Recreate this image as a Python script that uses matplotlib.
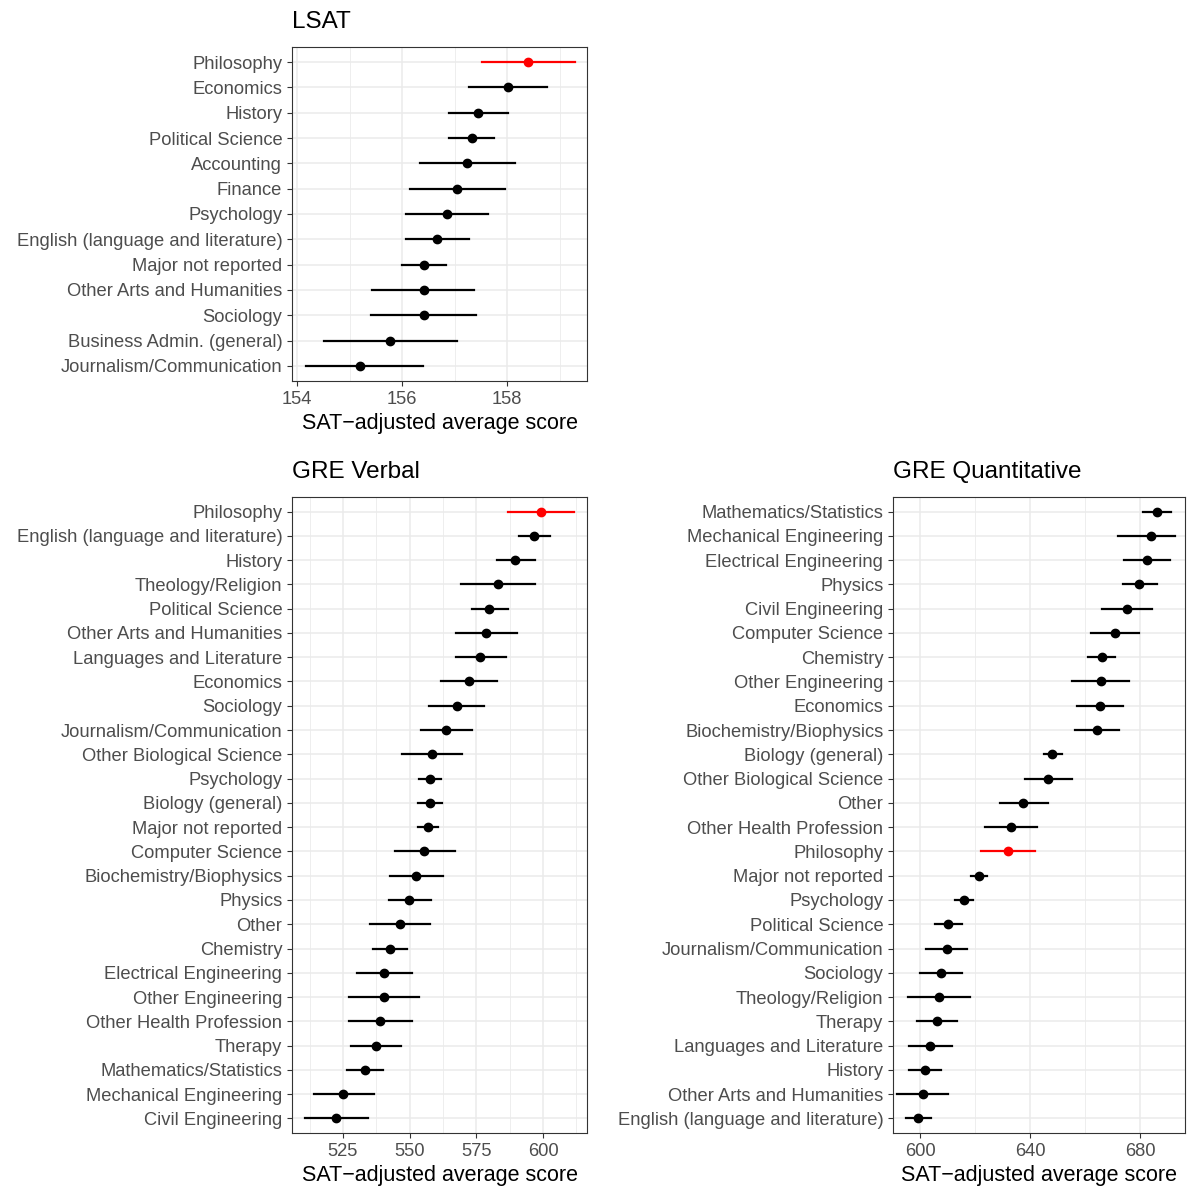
import matplotlib
matplotlib.use("Agg")
import matplotlib.pyplot as plt
import numpy as np

plt.rcParams['font.family'] = ['Liberation Sans', 'DejaVu Sans']

lsat_majors = ["Philosophy","Economics","History","Political Science","Accounting","Finance","Psychology",
               "English (language and literature)","Major not reported","Other Arts and Humanities","Sociology",
               "Business Admin. (general)","Journalism/Communication"]
lsat_mean = [158.4,158.02,157.45,157.33,157.24,157.05,156.86,156.67,156.42,156.42,156.42,155.77,155.19]
lsat_lo = [157.52,157.28,156.90,156.90,156.34,156.15,156.08,156.08,156.0,155.43,155.41,154.51,154.17]
lsat_hi = [159.30,158.76,158.02,157.75,158.15,157.96,157.64,157.28,156.84,157.37,157.41,157.05,156.4]

verb_majors = ["Philosophy","English (language and literature)","History","Theology/Religion","Political Science",
               "Other Arts and Humanities","Languages and Literature","Economics","Sociology","Journalism/Communication",
               "Other Biological Science","Psychology","Biology (general)","Major not reported","Computer Science",
               "Biochemistry/Biophysics","Physics","Other","Chemistry","Electrical Engineering","Other Engineering",
               "Other Health Profession","Therapy","Mathematics/Statistics","Mechanical Engineering","Civil Engineering"]
verb_mean = [599.3,596.6,589.5,583.1,579.8,578.6,576.4,572.3,567.8,563.6,558.4,557.6,557.6,556.9,555.4,552.4,
             549.8,546.4,542.6,540.4,540.4,538.9,537.4,533.3,525.0,522.4]
verb_lo = [586.9,591.0,582.8,569.3,573.4,567.4,567.4,561.8,557.3,554.3,547.1,553.5,553.1,553.1,544.5,542.6,
           542.3,535.1,536.3,530.3,527.3,527.3,528.0,526.5,514.1,510.8]
verb_hi = [611.6,602.6,597.0,597.0,586.9,590.3,586.1,582.8,577.9,573.4,569.6,561.8,562.1,560.6,567.0,562.5,
           558.0,557.6,549.0,550.9,553.5,550.9,546.8,540.0,536.6,534.4]

quant_majors = ["Mathematics/Statistics","Mechanical Engineering","Electrical Engineering","Physics","Civil Engineering",
                "Computer Science","Chemistry","Other Engineering","Economics","Biochemistry/Biophysics",
                "Biology (general)","Other Biological Science","Other","Other Health Profession","Philosophy",
                "Major not reported","Psychology","Political Science","Journalism/Communication","Sociology",
                "Theology/Religion","Therapy","Languages and Literature","History","Other Arts and Humanities",
                "English (language and literature)"]
quant_mean = [686.2,684.0,682.5,679.6,675.3,670.9,666.2,665.8,665.5,664.4,648.0,646.5,637.5,633.1,632.0,
              621.5,616.0,610.2,609.8,607.6,606.9,606.2,603.6,601.8,601.1,599.3]
quant_lo = [681.1,672.0,674.2,673.8,666.2,662.2,661.1,655.3,657.1,656.4,645.1,638.2,629.1,623.6,622.2,
            618.5,612.7,605.5,602.2,600.0,595.6,598.9,596.0,596.0,591.6,594.9]
quant_hi = [691.3,692.7,690.9,686.2,684.4,679.6,670.9,676.0,673.8,672.4,651.6,655.3,646.5,642.5,641.8,
            624.4,619.3,615.3,617.1,615.3,618.2,613.5,611.6,607.6,610.2,604.0]

fig = plt.figure(figsize=(12, 12), dpi=100)
W = H = 1200.0
GRID = '#ebebeb'
TXT = '#4d4d4d'

def panel(rect, title, majors, mean, lo, hi, xlim, ticks, minor):
    l, t, r, b = rect
    ax = fig.add_axes([l/W, 1-b/H, (r-l)/W, (b-t)/H])
    n = len(majors)
    y = np.arange(n)[::-1]
    for v in minor:
        ax.axvline(v, color=GRID, lw=0.6, zorder=0)
    for v in ticks:
        ax.axvline(v, color=GRID, lw=1.1, zorder=0)
    for yy in y:
        ax.axhline(yy, color=GRID, lw=1.1, zorder=0)
    for i in range(n):
        c = 'red' if majors[i] == 'Philosophy' else 'black'
        ax.plot([lo[i], hi[i]], [y[i], y[i]], color=c, lw=1.6, zorder=2)
        ax.plot(mean[i], y[i], 'o', color=c, ms=6, zorder=3)
    ax.set_xlim(*xlim)
    ax.set_ylim(-0.6, n-1+0.6)
    ax.set_yticks(y)
    ax.set_yticklabels(majors, fontsize=13.2, color=TXT)
    ax.set_xticks(ticks)
    ax.set_xticklabels([str(v) for v in ticks], fontsize=13.2, color=TXT)
    ax.tick_params(length=3.5, color='#333333', width=0.8)
    for s in ax.spines.values():
        s.set_color('#333333'); s.set_linewidth(0.8)
    ax.set_xlabel("SAT\u2212adjusted average score", fontsize=15.5, labelpad=4)
    fig.text(l/W, 1-(t-14)/H, title, fontsize=17.5, ha='left', va='bottom')
    return ax

panel((292, 47, 587, 381), "LSAT", lsat_majors, lsat_mean, lsat_lo, lsat_hi,
      (153.9, 159.52), [154, 156, 158], [155, 157, 159])
panel((292, 497, 587, 1133), "GRE Verbal", verb_majors, verb_mean, verb_lo, verb_hi,
      (505.9, 616.5), [525, 550, 575, 600], [512.5, 537.5, 562.5, 587.5, 612.5])
panel((893, 497, 1185, 1133), "GRE Quantitative", quant_majors, quant_mean, quant_lo, quant_hi,
      (590.2, 696.4), [600, 640, 680], [620, 660])

fig.savefig("out.png", dpi=100, facecolor='white')
